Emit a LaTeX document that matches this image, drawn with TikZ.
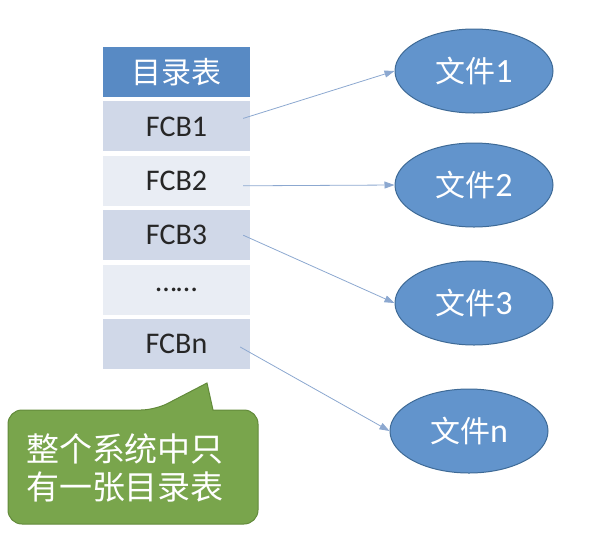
\documentclass[tikz,border=0pt]{standalone}
\usepackage{fontspec}
\setmainfont{Carlito}
\newfontfamily\cjk{Noto Sans CJK SC}
\usetikzlibrary{positioning, shapes.geometric, arrows.meta}
\definecolor{hdrblue}{RGB}{88,138,196}
\definecolor{rowdark}{RGB}{208,216,232}
\definecolor{rowlight}{RGB}{233,237,244}
\definecolor{fileblue}{RGB}{98,148,204}
\definecolor{fileedge}{RGB}{62,106,150}
\definecolor{linkblue}{RGB}{140,168,208}
\definecolor{notegreen}{RGB}{121,165,76}
\definecolor{noteedge}{RGB}{98,138,58}

\begin{document}
\begin{tikzpicture}[x=1pt, y=-1pt, node distance=4pt,
  every node/.style={font=\fontsize{30}{36}\selectfont},
  row/.style={minimum width=147pt, minimum height=50pt, inner sep=0pt, text=black!85},
  file/.style={ellipse, draw=fileedge, line width=1pt, fill=fileblue, text=white,
    minimum width=158pt, minimum height=84pt, inner sep=0pt,
    font=\fontsize{34}{40}\selectfont},
  link/.style={draw=linkblue, line width=0.8pt, -{Triangle[length=10pt, width=7pt]}}]
\useasboundingbox (0,0) rectangle (589,550);
% directory table
\node[row, fill=hdrblue, text=white] (hdr) at (176.5,72) {\cjk 目录表};
\node[row, fill=rowdark, below=of hdr] (fcb1) {FCB1};
\node[row, fill=rowlight, below=of fcb1] (fcb2) {FCB2};
\node[row, fill=rowdark, below=of fcb2] (fcb3) {FCB3};
\node[row, fill=rowlight, below=of fcb3] (dots) {……};
\node[row, fill=rowdark, below=of dots] (fcbn) {FCBn};
% files
\node[file] (f1) at (474,71) {{\cjk\fontsize{30}{36}\selectfont 文件}1};
\node[file] (f2) at (474,185) {{\cjk\fontsize{30}{36}\selectfont 文件}2};
\node[file] (f3) at (474,303) {{\cjk\fontsize{30}{36}\selectfont 文件}3};
\node[file] (fn) at (469,431) {{\cjk\fontsize{30}{36}\selectfont 文件}n};
\draw[link] ([xshift=-7pt, yshift=8pt]fcb1.east) -- (f1.west);
\draw[link] ([xshift=-7pt, yshift=-5pt]fcb2.east) -- (f2.west);
\draw[link] ([xshift=-7pt]fcb3.east) -- (f3.west);
\draw[link] ([xshift=-10pt, yshift=-3pt]fcbn.east) -- (fn.west);
% callout
\filldraw[fill=notegreen, draw=noteedge, line width=1pt]
  (207,383) -- (213,410) [rounded corners=14] -- (258,410) -- (258,524)
  -- (8,524) -- (8,410) -- (155,410) [sharp corners] -- cycle;
\node[text=white, align=left, font=\cjk\fontsize{33}{38}\selectfont] (note) at (125,468)
  {整个系统中只\\有一张目录表};
\end{tikzpicture}
\end{document}
